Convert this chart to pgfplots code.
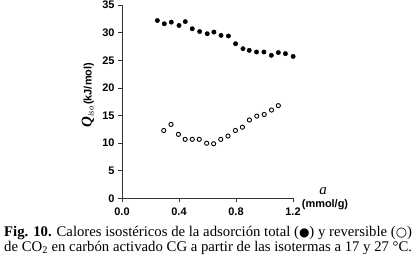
\documentclass[border=0pt]{standalone}
\usepackage{pgfplots}
\pgfplotsset{compat=1.18}
\usepackage{fontspec}
\setmainfont{Liberation Serif}
\setsansfont{Liberation Sans}
\newfontfamily\symfont{DejaVu Sans}
\pgfplotstableread{
x y
0.248 32.2
0.297 31.6
0.346 31.9
0.400 31.3
0.444 32.0
0.493 30.7
0.545 30.2
0.598 29.8
0.645 30.1
0.695 29.5
0.747 29.4
0.797 28.0
0.849 27.1
0.893 26.8
0.944 26.5
0.996 26.5
1.048 25.9
1.097 26.4
1.147 26.2
1.201 25.7
}\total
\pgfplotstableread{
x y
0.293 12.3
0.344 13.4
0.396 11.6
0.443 10.7
0.493 10.7
0.542 10.7
0.594 10.0
0.643 9.9
0.693 10.7
0.744 11.3
0.796 12.3
0.845 12.9
0.894 14.2
0.946 14.9
0.998 15.2
1.049 16.0
1.097 16.8
}\reversible
\begin{document}
\begin{tikzpicture}[x=1bp,y=1bp]
\useasboundingbox (0,0) rectangle (419,263);
\begin{axis}[
  at={(122bp,64.5bp)}, anchor=south west,
  scale only axis, width=171bp, height=193.5bp,
  xmin=0, xmax=1.2, ymin=0, ymax=35,
  axis x line=bottom, axis y line=left,
  axis line style={-, draw=black!80, line width=0.9pt},
  xtick={0,0.4,0.8,1.2}, xticklabels={0.0,0.4,0.8,1.2},
  ytick={0,5,10,15,20,25,30,35},
  tick align=outside, major tick length=4bp,
  tick style={draw=black!80, line width=0.8pt},
  ticklabel style={font=\sffamily\bfseries\fontsize{11}{12}\selectfont},
  xticklabel style={yshift=-2bp},
  /pgf/number format/assume math mode=true,
  clip=false,
]
\addplot[only marks, mark=*, mark size=2.2bp, black] table {\total};
\addplot[only marks, mark=o, mark size=2.1bp, black, mark options={line width=0.9bp}] table {\reversible};
\end{axis}
\node[rotate=90] at (88,168) {{\fontsize{15}{15}\selectfont\bfseries\itshape Q}\raisebox{-2bp}{\fontsize{8.5}{9}\selectfont\itshape iso}\,{\sffamily\bfseries\fontsize{11}{12}\selectfont(kJ/mol)}};
\node at (323,72) {\fontsize{15}{15}\selectfont\itshape a};
\node at (325,58) {\sffamily\bfseries\fontsize{11}{12}\selectfont(mmol/g)};
\node[anchor=base west, inner sep=0pt] at (4,27) {\fontsize{14.8}{15}\selectfont\textbf{Fig. 10.} Calores isostéricos de la adsorción total ({\symfont\fontsize{12}{12}\selectfont ●}) y reversible ({\symfont\fontsize{13}{12}\selectfont ○})};
\node[anchor=base west, inner sep=0pt] at (4,12) {\fontsize{14.8}{15}\selectfont de CO\textsubscript{2} en carbón activado CG a partir de las isotermas a 17 y 27 °C.};
\end{tikzpicture}
\end{document}
